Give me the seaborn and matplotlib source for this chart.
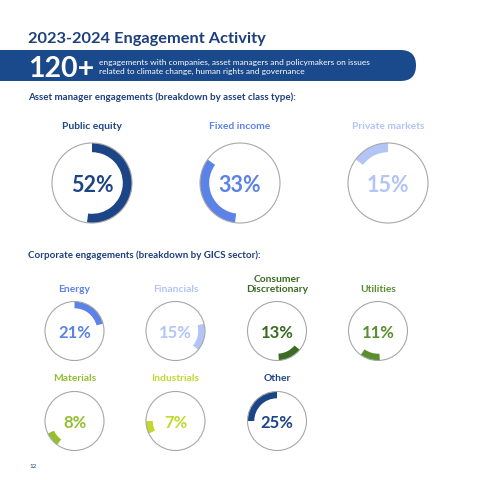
import numpy as np
import matplotlib.pyplot as plt
import seaborn as sns
from matplotlib.patches import Circle, FancyBboxPatch

# --- data ---
asset_classes = ['Public equity', 'Fixed income', 'Private markets']
asset_shares = [52, 33, 15]

sectors = ['Energy', 'Financials', 'Consumer\nDiscretionary', 'Utilities',
           'Materials', 'Industrials', 'Other']
sector_shares = [21, 15, 13, 11, 8, 7, 25]

total_engagements = '120+'

# --- styling ---
NAVY = '#1c4587'
TITLE = '#1d3f7c'
asset_colors = [NAVY, '#5b82e6', '#b3c4f6']
sector_colors = ['#5b82e6', '#b3c4f6', '#3a6b22', '#5a8f31', '#93bf2f', '#c3d82c', NAVY]

sns.set_theme(style='white')
plt.rcParams['font.family'] = ['Lato', 'DejaVu Sans']

W = H = 480
fig = plt.figure(figsize=(4.8, 4.8), dpi=100)
fig.patch.set_facecolor('white')


def fx(x):
    return x / W


def fy(y):
    return 1 - y / H


def donut(cx, cy, r, offset, share, color, label, pct_size, label_bottom):
    pad = 1.04
    ax = fig.add_axes([fx(cx - r * pad), fy(cy + r * pad), 2 * r * pad / W, 2 * r * pad / H])
    ax.pie([offset, share, 100 - offset - share], colors=['none', color, 'none'],
           startangle=90, counterclock=False, radius=1,
           wedgeprops=dict(width=0.23, linewidth=0))
    ax.add_patch(Circle((0, 0), 1, fill=False, ec='#a8a8a8', lw=0.8))
    ax.set_xlim(-pad, pad)
    ax.set_ylim(-pad, pad)
    ax.set_aspect('equal')
    ax.axis('off')
    ax.text(0, 0, f'{share}%', ha='center', va='center_baseline',
            fontsize=pct_size, fontweight='bold', color=color)
    fig.text(fx(cx), fy(label_bottom), label, ha='center', va='bottom',
             fontsize=7.4, fontweight='bold', color=color, linespacing=1.1)


# header
fig.text(fx(28), fy(43), '2023-2024 Engagement Activity', ha='left', va='baseline',
         fontsize=11.8, fontweight='bold', color=TITLE)

banner = FancyBboxPatch((fx(-30), fy(81)), fx(446), 31 / H,
                        boxstyle=f'round,pad=0,rounding_size={15.5 / W}',
                        transform=fig.transFigure, fc='#1a4a8c', ec='none')
fig.add_artist(banner)
fig.text(fx(28), fy(77), total_engagements, ha='left', va='baseline',
         fontsize=20.5, fontweight='bold', color='white')
fig.text(fx(99), fy(62.5), 'engagements with companies, asset managers and policymakers on issues',
         ha='left', va='center', fontsize=6.05, color='white')
fig.text(fx(99), fy(71.5), 'related to climate change, human rights and governance',
         ha='left', va='center', fontsize=6.05, color='white')

fig.text(fx(28), fy(97), 'Asset manager engagements (breakdown by asset class type):',
         ha='left', va='center', fontsize=7.0, fontweight='bold', color=TITLE)
fig.text(fx(28), fy(255), 'Corporate engagements (breakdown by GICS sector):',
         ha='left', va='center', fontsize=7.0, fontweight='bold', color=TITLE)

# asset class donuts: arcs stacked around the ring
asset_offsets = np.concatenate([[0], np.cumsum(asset_shares)[:-1]])
asset_x = [92, 240, 388]
for i, name in enumerate(asset_classes):
    donut(asset_x[i], 183, 40, asset_offsets[i], asset_shares[i], asset_colors[i],
          name, 15.5, 131)

# sector donuts
sector_offsets = np.concatenate([[0], np.cumsum(sector_shares)[:-1]])
sector_pos = [(74.5, 331), (175.5, 331), (277, 331), (378, 331),
              (74.5, 421), (175.5, 421), (277, 421)]
sector_label_bottom = [294, 294, 294, 294, 383, 383, 383]
for i, name in enumerate(sectors):
    cx, cy = sector_pos[i]
    donut(cx, cy, 29.5, sector_offsets[i], sector_shares[i], sector_colors[i],
          name, 12, sector_label_bottom[i])

fig.text(fx(29), fy(466), '12', ha='left', va='center', fontsize=4.5, color=TITLE)

fig.savefig('out.png', dpi=100, facecolor='white')
